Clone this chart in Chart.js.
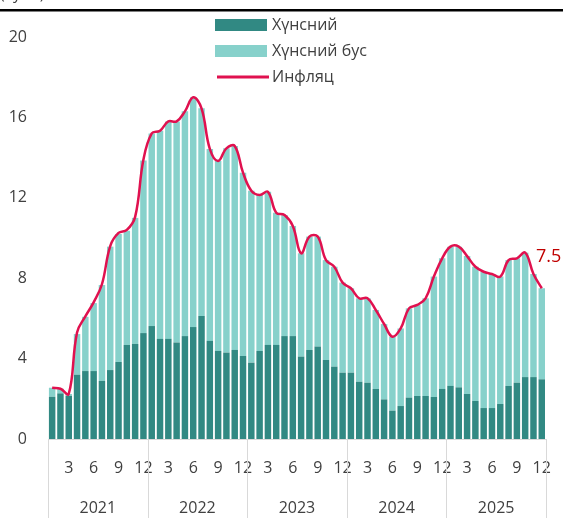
<!DOCTYPE html>
<html>
<head>
<meta charset="utf-8">
<script src="https://cdn.jsdelivr.net/npm/chart.js@4.4.1/dist/chart.umd.min.js"></script>
<style>
  html, body { margin: 0; padding: 0; background: #fff; }
  #wrap { width: 563px; height: 518px; position: relative; }
</style>
</head>
<body>
<div id="wrap"><canvas id="myChart" width="563" height="518"></canvas></div>
<script>
const ctx = document.getElementById('myChart');

const years = ['2021', '2022', '2023', '2024', '2025'];
const months = [];
years.forEach(y => { for (let m = 1; m <= 12; m++) months.push(m); });

// хүнсний бүтээгдэхүүний хувь нэмэр
const food = [
  2.1, 2.27, 2.15, 3.2, 3.38, 3.38, 2.89, 3.43, 3.83, 4.68, 4.73, 5.27,
  5.62, 4.98, 4.98, 4.8, 5.12, 5.57, 6.12, 4.88, 4.38, 4.3, 4.43, 4.13,
  3.8, 4.38, 4.68, 4.68, 5.12, 5.12, 4.1, 4.43, 4.6, 3.93, 3.6, 3.3,
  3.3, 2.85, 2.8, 2.49, 1.97, 1.41, 1.64, 2.06, 2.14, 2.14, 2.09, 2.49,
  2.64, 2.57, 2.24, 1.89, 1.54, 1.54, 1.74, 2.64, 2.8, 3.08, 3.08, 2.97
];
// хүнсний бус
const nonFood = [
  0.45, 0.23, 0.09, 2.02, 2.7, 3.38, 4.77, 6.14, 6.37, 5.68, 6.27, 8.58,
  9.58, 10.36, 10.82, 11.0, 11.18, 11.43, 10.33, 9.55, 9.45, 10.16, 10.15, 9.12,
  8.55, 7.76, 7.62, 6.58, 6.02, 5.48, 5.14, 5.64, 5.47, 4.97, 4.97, 4.48,
  4.2, 4.15, 4.2, 3.93, 3.75, 3.68, 3.86, 4.44, 4.53, 4.86, 5.99, 6.5,
  6.93, 7.0, 6.86, 6.68, 6.78, 6.67, 6.34, 6.26, 6.19, 6.19, 5.13, 4.53
];
// инфляц
const inflation = [
  2.55, 2.5, 2.24, 5.3, 6.1, 6.8, 7.7, 9.6, 10.25, 10.4, 11.05, 13.9,
  15.2, 15.34, 15.8, 15.8, 16.3, 17.0, 16.45, 14.43, 13.83, 14.46, 14.58, 13.25,
  12.35, 12.14, 12.3, 11.26, 11.14, 10.6, 9.24, 10.07, 10.07, 8.9, 8.57, 7.78,
  7.5, 7.0, 7.0, 6.42, 5.72, 5.09, 5.5, 6.5, 6.67, 7.0, 8.08, 8.99,
  9.57, 9.57, 9.1, 8.57, 8.32, 8.21, 8.08, 8.9, 8.99, 9.27, 8.21, 7.5
];
const yTicks = [0, 4, 8, 12, 16, 20];

const darkTeal = '#318983';
const lightTeal = '#87d1cb';
const red = '#e0114f';
const textCol = '#404040';
const font = '"Open Sans", "Noto Sans", sans-serif';

// жилүүдийн шошго, зураас, тайлбар
const extras = {
  id: 'extras',
  afterDraw(chart) {
    const c = chart.ctx;
    const x = chart.scales.x;
    const y = chart.scales.y;
    const area = chart.chartArea;
    c.save();
    // дээд хар зураас
    c.fillStyle = '#000';
    c.fillRect(0, 9, 563, 2.5);
    c.font = '16px ' + font;
    c.fillStyle = textCol;
    c.textAlign = 'left';
    c.textBaseline = 'bottom';
    c.fillText('(хувь)', 0, 2);

    // жилийн хуваарь
    const half = (x.getPixelForValue(1) - x.getPixelForValue(0)) / 2;
    c.strokeStyle = '#d9d9d9';
    c.lineWidth = 1;
    for (let i = 0; i <= years.length; i++) {
      const px = i < years.length ? x.getPixelForValue(i * 12) - half : x.getPixelForValue(59) + half;
      c.beginPath();
      c.moveTo(Math.round(px) + 0.5, area.bottom);
      c.lineTo(Math.round(px) + 0.5, 518);
      c.stroke();
    }
    c.textAlign = 'center';
    c.textBaseline = 'middle';
    years.forEach((yr, i) => {
      const px = (x.getPixelForValue(i * 12) + x.getPixelForValue(i * 12 + 11)) / 2;
      c.fillText(yr, px, 508);
    });

    // тайлбар
    const lx = 215, lw = 52;
    c.textAlign = 'left';
    c.fillStyle = darkTeal;
    c.fillRect(lx, 19, lw, 12);
    c.fillStyle = lightTeal;
    c.fillRect(lx, 45, lw, 12);
    c.strokeStyle = red;
    c.lineWidth = 3;
    c.beginPath();
    c.moveTo(lx + 2, 77);
    c.lineTo(lx + lw + 2, 77);
    c.stroke();
    c.fillStyle = textCol;
    c.fillText('Хүнсний', 272, 25);
    c.fillText('Хүнсний бус', 272, 51);
    c.fillText('Инфляц', 272, 77);

    // сүүлийн утга
    const last = inflation.length - 1;
    c.font = '18px ' + font;
    c.fillStyle = '#c00000';
    c.textAlign = 'left';
    c.fillText(String(inflation[last]), 536, y.getPixelForValue(inflation[last]) - 31);
    c.restore();
  }
};

const myChart = new Chart(ctx, {
  type: 'bar',
  data: {
    labels: months,
    datasets: [
      {
        type: 'line',
        label: 'Инфляц',
        data: inflation,
        borderColor: red,
        borderWidth: 2.5,
        pointRadius: 0,
        tension: 0.4,
        fill: false,
        order: 0
      },
      {
        label: 'Хүнсний',
        data: food,
        backgroundColor: darkTeal,
        stack: 's',
        barPercentage: 0.78,
        categoryPercentage: 1,
        order: 1
      },
      {
        label: 'Хүнсний бус',
        data: nonFood,
        backgroundColor: lightTeal,
        stack: 's',
        barPercentage: 0.78,
        categoryPercentage: 1,
        order: 1
      }
    ]
  },
  options: {
    responsive: false,
    animation: false,
    layout: { padding: { top: 37, right: 10, left: 0, bottom: 0 } },
    plugins: {
      legend: { display: false },
      tooltip: { enabled: false }
    },
    scales: {
      x: {
        stacked: true,
        grid: { display: false },
        border: { color: '#d9d9d9' },
        ticks: {
          autoSkip: false,
          maxRotation: 0,
          padding: 12,
          color: textCol,
          font: { family: font, size: 16 },
          callback: (v, i) => (months[i] % 3 === 0 ? String(months[i]) : '')
        },
        afterFit: s => { s.height = 79; }
      },
      y: {
        stacked: true,
        min: 0,
        max: 20,
        grid: { display: false },
        border: { display: false },
        afterBuildTicks: s => { s.ticks = yTicks.map(v => ({ value: v })); },
        ticks: {
          padding: 13,
          color: textCol,
          font: { family: font, size: 16 }
        },
        afterFit: s => { s.width = 48; }
      }
    }
  },
  plugins: [extras]
});
</script>
</body>
</html>
